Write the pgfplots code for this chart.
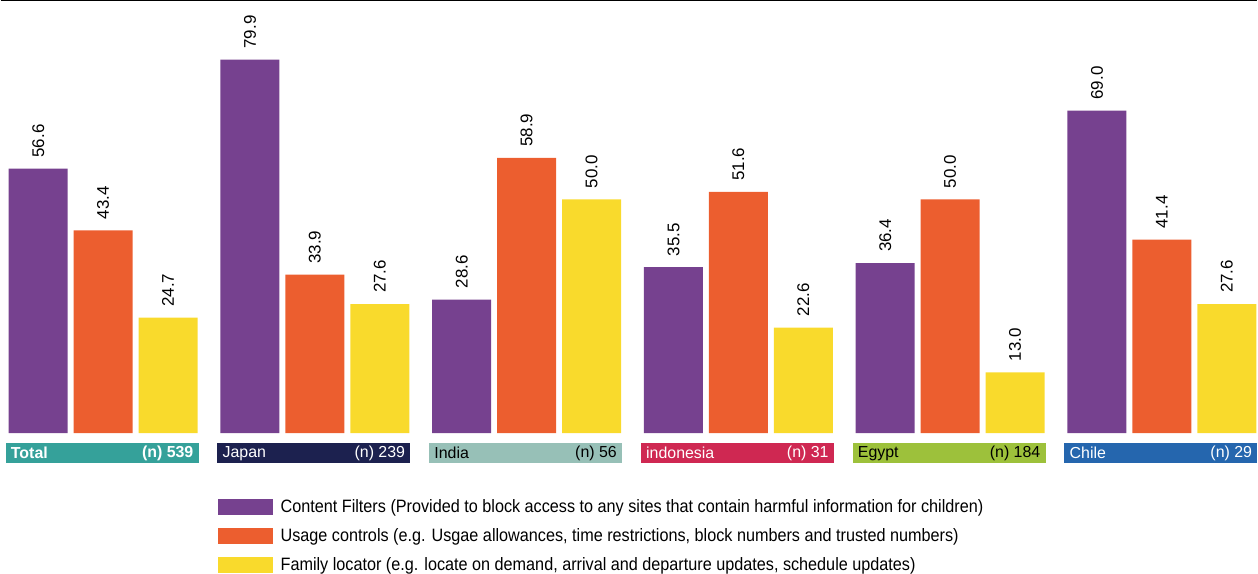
\documentclass[border=0pt]{standalone}
\usepackage{fontspec}
\setmainfont{Liberation Sans}
\usepackage{graphicx}
\usepackage{pgfplots}
\pgfplotsset{compat=1.18}
\definecolor{cpur}{HTML}{76418F}
\definecolor{cora}{HTML}{EC5E2F}
\definecolor{cyel}{HTML}{F9DA2C}
\definecolor{bTotal}{HTML}{35A19A}
\definecolor{bJapan}{HTML}{1C214F}
\definecolor{bIndia}{HTML}{97C0B7}
\definecolor{bIndo}{HTML}{CF2852}
\definecolor{bEgypt}{HTML}{9DC13B}
\definecolor{bChile}{HTML}{2566AE}
\newcommand{\legtxt}[1]{\scalebox{0.905}[1]{\fontsize{18}{18}\selectfont #1}}
\newcommand{\bx}{\fontsize{16}{16}\selectfont}
\begin{document}
\begin{tikzpicture}
\begin{axis}[
  scale only axis, width=1258bp, height=433bp,
  xmin=-0.48349, xmax=5.4505, ymin=0, ymax=92.5,
  hide axis, clip=false,
  ybar=6bp, bar width=59bp,
  nodes near coords={\pgfmathprintnumber[fixed,fixed zerofill,precision=1,assume math mode=true]{\pgfplotspointmeta}},
  every node near coord/.append style={rotate=90, anchor=west, inner ysep=0pt, inner xsep=11bp, font=\fontsize{17}{17}\selectfont, text=black},
  legend style={at={(rel axis cs:0.1725,-0.1524)}, anchor=north west, draw=none, fill=none, inner sep=0pt,
    row sep=13bp, cells={anchor=west},
    nodes={inner sep=0pt, text height=13bp, text depth=3bp},
    /tikz/every odd column/.append style={column sep=8bp}},
  legend image code/.code={\fill[#1,draw=none] (0bp,-8bp) rectangle (55bp,8bp);},
]
\addplot[fill=cpur, draw=none] coordinates {(0,56.6) (1,79.9) (2,28.6) (3,35.5) (4,36.4) (5,69.0)};
\addplot[fill=cora, draw=none] coordinates {(0,43.4) (1,33.9) (2,58.9) (3,51.6) (4,50.0) (5,41.4)};
\addplot[fill=cyel, draw=none] coordinates {(0,24.7) (1,27.6) (2,50.0) (3,22.6) (4,13.0) (5,27.6)};
\legend{\legtxt{Content Filters (Provided to block access to any sites that contain harmful information for children)},
        \legtxt{Usage controls (e.g. Usgae allowances, time restrictions, block numbers and trusted numbers)},
        \legtxt{Family locator (e.g. locate on demand, arrival and departure updates, schedule updates)}}
\draw[black, line width=1.5bp] (rel axis cs:0,1) -- (rel axis cs:1,1);
% category boxes
\fill[bTotal] (axis cs:-0.4599,-2.14) rectangle (axis cs:0.4505,-6.41);
\node[anchor=west, text=white, font=\bx\bfseries, inner sep=0pt] at (axis cs:-0.4599,-4.27) [xshift=5bp] {Total};
\node[anchor=east, text=white, font=\bx\bfseries, inner sep=0pt] at (axis cs:0.4505,-4.27) [xshift=-5bp] {(n) 539};
\fill[bJapan] (axis cs:0.5401,-2.14) rectangle (axis cs:1.4505,-6.41);
\node[anchor=west, text=white, font=\bx, inner sep=0pt] at (axis cs:0.5401,-4.27) [xshift=5bp] {Japan};
\node[anchor=east, text=white, font=\bx, inner sep=0pt] at (axis cs:1.4505,-4.27) [xshift=-5bp] {(n) 239};
\fill[bIndia] (axis cs:1.5401,-2.14) rectangle (axis cs:2.4505,-6.41);
\node[anchor=west, text=black, font=\bx, inner sep=0pt] at (axis cs:1.5401,-4.27) [xshift=5bp] {India};
\node[anchor=east, text=black, font=\bx, inner sep=0pt] at (axis cs:2.4505,-4.27) [xshift=-5bp] {(n) 56};
\fill[bIndo] (axis cs:2.5401,-2.14) rectangle (axis cs:3.4505,-6.41);
\node[anchor=west, text=white, font=\bx, inner sep=0pt] at (axis cs:2.5401,-4.27) [xshift=5bp] {indonesia};
\node[anchor=east, text=white, font=\bx, inner sep=0pt] at (axis cs:3.4505,-4.27) [xshift=-5bp] {(n) 31};
\fill[bEgypt] (axis cs:3.5401,-2.14) rectangle (axis cs:4.4505,-6.41);
\node[anchor=west, text=black, font=\bx, inner sep=0pt] at (axis cs:3.5401,-4.27) [xshift=5bp] {Egypt};
\node[anchor=east, text=black, font=\bx, inner sep=0pt] at (axis cs:4.4505,-4.27) [xshift=-5bp] {(n) 184};
\fill[bChile] (axis cs:4.5401,-2.14) rectangle (axis cs:5.4505,-6.41);
\node[anchor=west, text=white, font=\bx, inner sep=0pt] at (axis cs:4.5401,-4.27) [xshift=5bp] {Chile};
\node[anchor=east, text=white, font=\bx, inner sep=0pt] at (axis cs:5.4505,-4.27) [xshift=-5bp] {(n) 29};
\end{axis}
\end{tikzpicture}
\end{document}
